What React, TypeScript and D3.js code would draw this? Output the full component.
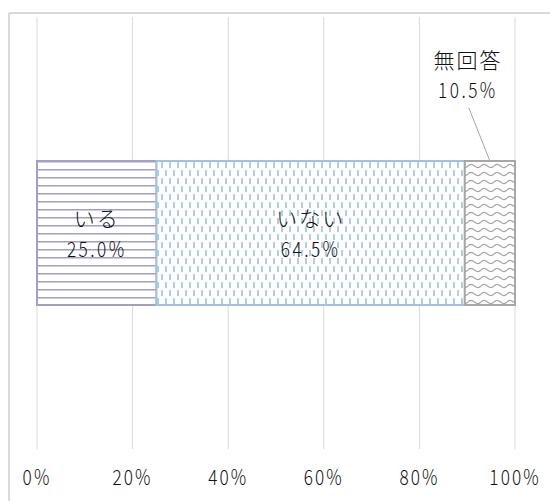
import React from "react";
import * as d3 from "d3";

// Response shares (%) for a single stacked bar
const categories = ["いる", "いない", "無回答"];
const values = [25.0, 64.5, 10.5];
const tickValues = [0, 20, 40, 60, 80, 100];
const rowName = ["全体"];

const W = 550;
const H = 501;
const plot = { left: 37, right: 515, top: 17, bottom: 449 };
const FONT = "'Noto Sans CJK JP', 'Noto Sans', sans-serif";
const TEXT = "#111111";

const strokeColors = ["#a39dc9", "#9dc3e6", "#a6a6a6"];
const patternIds = ["pat-hstripe", "pat-vdash", "pat-wave"];

// Numbers are set in a condensed face: squeeze glyphs horizontally
function NarrowText({ x, y, children, spacing = 3 }: { x: number; y: number; children: string; spacing?: number }) {
  return (
    <g transform={`translate(${x},${y}) scale(0.82,1)`}>
      <text
        x={0}
        y={0}
        textAnchor="middle"
        dominantBaseline="central"
        fontFamily={FONT}
        fontSize={21}
        fontWeight={300}
        fill={TEXT}
        letterSpacing={spacing}
      >
        {children}
      </text>
    </g>
  );
}

function KanaText({ x, y, children }: { x: number; y: number; children: string }) {
  return (
    <text
      x={x}
      y={y}
      textAnchor="middle"
      dominantBaseline="central"
      fontFamily={FONT}
      fontSize={21}
      fontWeight={300}
      fill={TEXT}
      letterSpacing={2}
    >
      {children}
    </text>
  );
}

export default function App() {
  const x = d3.scaleLinear().domain([0, 100]).range([plot.left, plot.right]);
  const y = d3
    .scaleBand<string>()
    .domain(rowName)
    .range([plot.top, plot.bottom])
    .paddingInner(0.5)
    .paddingOuter(0.5);

  const starts = d3.cumsum([0, ...values]).slice(0, values.length);
  const segments = categories.map((c, i) => ({
    name: c,
    value: values[i],
    x0: starts[i],
    x1: starts[i] + values[i],
  }));

  const y0 = y(rowName[0]) as number;
  const bh = y.bandwidth();
  const yMid = y0 + bh / 2;

  const wavePath = d3.line().curve(d3.curveBasis)([
    [0, 5],
    [3.25, 2.5],
    [6.5, 5],
    [9.75, 7.5],
    [13, 5],
  ]) as string;

  const fmt = (v: number) => v.toFixed(1) + "%";

  const outside = segments[2];
  const outCx = (x(outside.x0) + x(outside.x1)) / 2;
  const outLx = outCx - 22;

  return (
    <svg
      width={W}
      height={H}
      style={{ position: "absolute", left: 0, top: 0, background: "#fff" }}
    >
      <defs>
        <pattern id={patternIds[0]} width={8} height={8} patternUnits="userSpaceOnUse" y={y0}>
          <rect width={8} height={8} fill="#fff" />
          <line x1={0} x2={8} y1={0.75} y2={0.75} stroke={strokeColors[0]} strokeWidth={1.5} />
        </pattern>
        <pattern id={patternIds[1]} width={8} height={16} patternUnits="userSpaceOnUse" y={y0}>
          <rect width={8} height={16} fill="#fff" />
          <line x1={2} x2={2} y1={1} y2={7} stroke={strokeColors[1]} strokeWidth={1.6} />
          <line x1={6} x2={6} y1={9} y2={15} stroke={strokeColors[1]} strokeWidth={1.6} />
        </pattern>
        <pattern id={patternIds[2]} width={13} height={8} patternUnits="userSpaceOnUse" y={y0}>
          <rect width={13} height={8} fill="#fff" />
          <path d={wavePath} fill="none" stroke={strokeColors[2]} strokeWidth={1.3} />
        </pattern>
      </defs>

      {/* chart frame */}
      <line x1={9} x2={W} y1={13} y2={13} stroke="#d9d9d9" strokeWidth={2} />
      <line x1={9} x2={9} y1={13} y2={H} stroke="#d9d9d9" strokeWidth={2} />

      {/* vertical gridlines */}
      {tickValues.map((t) => (
        <line
          key={t}
          x1={x(t)}
          x2={x(t)}
          y1={plot.top}
          y2={plot.bottom}
          stroke="#d9d9d9"
          strokeWidth={1}
        />
      ))}

      {/* stacked segments */}
      {segments.map((s, i) => (
        <rect
          key={s.name}
          x={x(s.x0)}
          y={y0}
          width={x(s.x1) - x(s.x0)}
          height={bh}
          fill={`url(#${patternIds[i]})`}
          stroke={strokeColors[i]}
          strokeWidth={2}
        />
      ))}

      {/* inside labels */}
      {segments.slice(0, 2).map((s) => {
        const cx = (x(s.x0) + x(s.x1)) / 2;
        return (
          <g key={s.name}>
            <KanaText x={cx} y={yMid - 16}>{s.name}</KanaText>
            <NarrowText x={cx} y={yMid + 15}>{fmt(s.value)}</NarrowText>
          </g>
        );
      })}

      {/* outside label with leader line */}
      <line x1={outLx + 1} y1={108} x2={outCx} y2={y0} stroke="#a6a6a6" strokeWidth={1} />
      <KanaText x={outLx} y={59}>{outside.name}</KanaText>
      <NarrowText x={outLx} y={89}>{fmt(outside.value)}</NarrowText>

      {/* x-axis tick labels */}
      {tickValues.map((t) => (
        <NarrowText key={t} x={x(t)} y={476} spacing={2.5}>
          {t + "%"}
        </NarrowText>
      ))}
    </svg>
  );
}
